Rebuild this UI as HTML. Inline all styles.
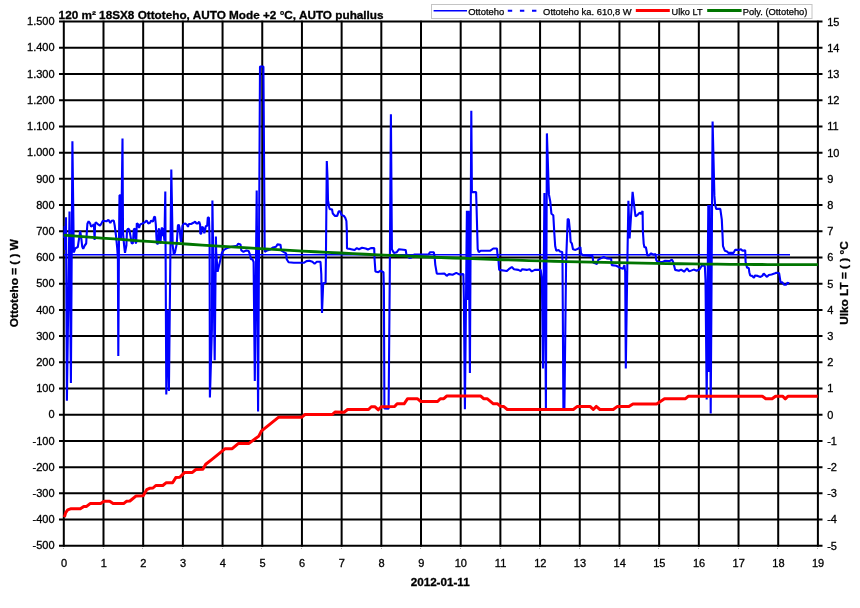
<!DOCTYPE html>
<html>
<head>
<meta charset="utf-8">
<title>Chart</title>
<style>
html, body { margin: 0; padding: 0; background: #fff; }
body { width: 860px; height: 608px; overflow: hidden; font-family: "Liberation Sans", sans-serif; }
svg { display: block; will-change: transform; }
</style>
</head>
<body>
<svg width="860" height="608" viewBox="0 0 860 608">
<rect width="860" height="608" fill="#fff"/>
<g stroke="#000" stroke-width="2" fill="none">
<line x1="59" x2="822.5" y1="21.60" y2="21.60"/>
<line x1="59" x2="822.5" y1="47.81" y2="47.81"/>
<line x1="59" x2="822.5" y1="74.02" y2="74.02"/>
<line x1="59" x2="822.5" y1="100.22" y2="100.22"/>
<line x1="59" x2="822.5" y1="126.43" y2="126.43"/>
<line x1="59" x2="822.5" y1="152.64" y2="152.64"/>
<line x1="59" x2="822.5" y1="178.84" y2="178.84"/>
<line x1="59" x2="822.5" y1="205.05" y2="205.05"/>
<line x1="59" x2="822.5" y1="231.26" y2="231.26"/>
<line x1="59" x2="822.5" y1="257.47" y2="257.47"/>
<line x1="59" x2="822.5" y1="283.68" y2="283.68"/>
<line x1="59" x2="822.5" y1="309.88" y2="309.88"/>
<line x1="59" x2="822.5" y1="336.09" y2="336.09"/>
<line x1="59" x2="822.5" y1="362.30" y2="362.30"/>
<line x1="59" x2="822.5" y1="388.50" y2="388.50"/>
<line x1="59" x2="822.5" y1="414.71" y2="414.71"/>
<line x1="59" x2="822.5" y1="440.92" y2="440.92"/>
<line x1="59" x2="822.5" y1="467.13" y2="467.13"/>
<line x1="59" x2="822.5" y1="493.34" y2="493.34"/>
<line x1="59" x2="822.5" y1="519.54" y2="519.54"/>
<line x1="59" x2="822.5" y1="545.75" y2="545.75"/>
<line x1="63.80" x2="63.80" y1="20.70" y2="546.65"/>
<line x1="103.49" x2="103.49" y1="20.70" y2="546.65"/>
<line x1="143.18" x2="143.18" y1="20.70" y2="546.65"/>
<line x1="182.87" x2="182.87" y1="20.70" y2="546.65"/>
<line x1="222.56" x2="222.56" y1="20.70" y2="546.65"/>
<line x1="262.25" x2="262.25" y1="20.70" y2="546.65"/>
<line x1="301.94" x2="301.94" y1="20.70" y2="546.65"/>
<line x1="341.63" x2="341.63" y1="20.70" y2="546.65"/>
<line x1="381.32" x2="381.32" y1="20.70" y2="546.65"/>
<line x1="421.01" x2="421.01" y1="20.70" y2="546.65"/>
<line x1="460.69" x2="460.69" y1="20.70" y2="546.65"/>
<line x1="500.38" x2="500.38" y1="20.70" y2="546.65"/>
<line x1="540.07" x2="540.07" y1="20.70" y2="546.65"/>
<line x1="579.76" x2="579.76" y1="20.70" y2="546.65"/>
<line x1="619.45" x2="619.45" y1="20.70" y2="546.65"/>
<line x1="659.14" x2="659.14" y1="20.70" y2="546.65"/>
<line x1="698.83" x2="698.83" y1="20.70" y2="546.65"/>
<line x1="738.52" x2="738.52" y1="20.70" y2="546.65"/>
<line x1="778.21" x2="778.21" y1="20.70" y2="546.65"/>
<line x1="817.90" x2="817.90" y1="20.70" y2="546.65"/>
</g>
<g fill="#aaa">
<rect x="63" y="548" width="1" height="1"/>
<rect x="103" y="548" width="1" height="1"/>
<rect x="142" y="548" width="1" height="1"/>
<rect x="182" y="548" width="1" height="1"/>
<rect x="222" y="548" width="1" height="1"/>
<rect x="261" y="548" width="1" height="1"/>
<rect x="301" y="548" width="1" height="1"/>
<rect x="341" y="548" width="1" height="1"/>
<rect x="381" y="548" width="1" height="1"/>
<rect x="420" y="548" width="1" height="1"/>
<rect x="460" y="548" width="1" height="1"/>
<rect x="500" y="548" width="1" height="1"/>
<rect x="539" y="548" width="1" height="1"/>
<rect x="579" y="548" width="1" height="1"/>
<rect x="619" y="548" width="1" height="1"/>
<rect x="658" y="548" width="1" height="1"/>
<rect x="698" y="548" width="1" height="1"/>
<rect x="738" y="548" width="1" height="1"/>
<rect x="777" y="548" width="1" height="1"/>
<rect x="817" y="548" width="1" height="1"/>
</g>
<line x1="64" x2="790" y1="254.7" y2="254.7" stroke="#00f" stroke-width="1.5"/>
<polyline fill="none" stroke="#0000ff" stroke-width="2.1" stroke-linejoin="bevel" points="64.2,238 64.8,226 65.2,250 66.0,217.3 66.9,400.8 69.5,211.4 70.9,383 72.4,141.2 73.8,252.4 75.3,248.4 77.8,247 79.2,237.6 80.2,230.9 81.2,237.6 82.2,246.5 83.2,248.9 84.7,245.5 86.2,243.5 86.7,233.6 87.4,223.8 88.6,221.3 90.1,223.3 91.1,226.7 92.6,225.7 93.9,224.2 94.6,240 95.1,224.2 95.7,222.3 97.5,223.8 100,225.7 101.5,223.3 102.9,220.8 106.4,221.3 108.4,219.8 110.3,223.0 111.6,220.8 113.8,220.6 114.7,225.5 115.9,235.0 117.2,248 117.9,258 118.3,356 118.9,250 119.5,195.3 120.5,195.3 121.0,240 121.7,200 122.5,138.5 123,232.6 124.1,245.3 125,252.8 126.4,245.3 127,230.3 128.2,228.6 129.3,229.7 130.5,236.1 131.6,243 132.8,243.6 133.9,229.2 135.1,228.6 135.6,243 136.2,243 136.8,223.4 137.9,224 139.1,228 140.2,224.5 142.6,223.4 144.9,222.2 146.6,220.5 148.3,223.4 150,222.8 151.2,220.5 152.9,221.7 154.1,217.1 155,216.5 155.8,224.5 156.4,236.1 156.9,243.6 158.1,243.6 158.7,229.2 159.2,228.6 159.8,236.1 160.4,243.6 161,236.1 161.9,227.4 162.7,236.1 163.3,228 164.4,240.7 165.3,191.5 166.3,394.6 167.6,310 168.9,391 171.3,169.6 172.7,245.3 173.8,254.5 175,252.2 176.7,244.1 177.9,225.7 178.7,224.5 179.6,228 180.5,238.4 181.1,241.8 181.7,236.1 182.5,225.7 183.6,224 185.3,223.4 187.1,225.1 188,226.9 188.8,224 191.1,224 193.4,222.8 195.1,221.7 196.3,223.4 198,223.4 199.2,221.7 200.1,224.5 200.3,233.8 201.2,233.8 201.7,226.9 203.2,227.4 204.3,233.2 205.1,230.3 205.8,226.3 207.2,225.7 207.8,217.6 208.9,217.6 209.3,228 209.6,243 209.9,397.4 211.9,330 212.4,200.6 214.7,360.2 215.9,236.6 216.2,252 217.6,271.8 219.8,262.2 222,252.6 224.2,249.6 227.2,248.1 231.6,246.7 236.8,245.9 238.3,243.7 240.5,244.4 241.3,250.4 243.5,251.8 246.4,250.4 248.7,251.1 250.1,254.8 250.9,259.2 252.4,259.2 253.6,262 254.8,381.1 256.7,190.5 258.1,411.4 260,66.5 263.4,66.5 264.7,251.8 267.2,250.4 270.1,249.6 273.1,247.4 276,246.7 277.5,244.4 280.5,244.7 281.2,250.4 283.5,251.8 286.1,253.3 286.7,259.2 288.6,262.2 293.8,262.7 304.2,262.6 306.5,261.1 309.4,260.8 312.4,261.8 314.6,263.7 316.8,261.8 320.5,261.8 321.3,274.4 322,312.9 323.2,283.3 325.6,282.8 326.0,250 326.8,161.1 327.6,179.6 328,200.3 329.1,207 329.8,209.2 332,209.2 332.8,213.6 335,215.9 337.2,215.9 338.7,211.4 340.2,211.4 341.6,215.1 343.9,215.9 345.3,217.8 346.4,221 346.8,229.9 347,248.5 350.1,248.9 354.6,250 356.8,248.1 359,249.2 362,247.8 365.7,248.5 367.9,249.5 370.9,248.1 374.2,248.1 374.6,259.6 375.4,271.4 378.3,272.2 380.5,270.7 383.5,272.2 383.9,289.2 384.4,408.5 388.6,408.8 389.8,272 390.9,114.3 391.9,249.2 393.9,252.9 396.8,252.2 399,249.2 405.7,250 406.4,254.4 409.4,258.1 411.6,257.4 414,254.6 428.6,254.4 430.1,252.2 433.8,252.2 434.6,256.6 435.3,264.8 436.8,273.7 440.5,273.7 444.4,273.6 446.7,275.8 448.9,274.1 452.6,274.7 456.3,272.9 459.2,274.4 463.4,274.1 463.9,300 464.9,409.2 466.9,210.7 467.8,300 468.6,210.7 469.9,372.9 471.3,110.7 471.9,192.1 476.1,192.1 476.5,205 477.7,249.2 478.8,252.2 480.7,250.7 490.3,250.7 493.3,248.5 497,248.5 497.4,253.6 498.5,261 499.2,269.9 505.1,270.7 506.6,271.1 508.8,269.2 511.8,267 514,269.2 518.4,269.9 520.7,271.1 522.2,269.2 526.7,269.9 529.6,269.2 531.8,271.4 534.8,269.9 540.7,269.9 541.9,278.8 543,368.5 544.4,192.9 545.9,408.4 546.9,133.4 548.9,194.4 550.3,201.8 551.4,213.7 553.3,215.2 554.3,232.9 555.2,246.2 556.3,250.7 558.5,249.9 560,251.4 562.2,251.9 562.5,262 563.4,408.4 564.4,408.4 566.1,262 567.7,218.9 568.8,219.6 570,231.4 570.6,241.8 571.8,243.3 573,249.2 575.5,249.9 578.5,248.5 580.4,247 581,253.6 582.9,255.1 592.5,255.9 593.3,262.5 597,264 598.4,259.6 600.7,258.4 603.7,257 606.7,258.4 611.1,258.7 611.8,265.1 616.3,265.8 620.7,268.1 622.9,268.8 624.4,265.1 625.2,272 625.8,368.4 627.4,260 628.4,200.7 629.6,238.5 632.6,191.8 634.3,206.6 635.5,216.3 637.7,214.8 639.7,212.6 641.1,214 642.6,211.1 642.9,231.8 643.7,243.6 644.4,247.3 645.9,247.3 647.4,255.5 648.8,255.5 651.1,253.3 653.3,254.7 655.5,254 656.2,259.9 657.7,262.1 662.2,262.1 665.1,260.7 669.6,261.1 671.8,259.6 673,261.5 673.7,264 675.2,269.9 678.9,270.7 681.1,269.6 684.1,271.7 687,268.4 689.2,271.4 693.7,269.6 696.6,270.7 699.6,269.2 701.8,265.8 704.8,265.8 705.5,280 706.7,399.6 708.3,205 708.7,372 709.8,205 710.7,413.6 712.6,121.5 714.4,195.9 715.1,204.8 716.2,208.9 720.3,208.9 721.8,219.6 722.5,234.4 723,246.2 724.8,250.7 727,251.4 728.5,252.9 733.6,252.9 735.1,249.9 738.8,249.9 741,249.2 742.5,250.7 745.2,250.4 745.6,262 747,267.6 748.8,268 749.3,272.2 750.2,275.5 752.1,275.9 754,277.8 754.9,275.5 757.7,275.9 760.5,276.9 762.3,275.9 763.7,273.6 765.1,275 767,276.9 768.8,275 771.6,274.5 774.4,273.6 776.3,272.7 779.1,273.1 780,278.7 780.5,282.4 782.3,282.4 784.2,284.8 786,284.8 787.4,282.9 789.3,283.2"/>
<polyline fill="none" stroke="#ff0000" stroke-width="3" stroke-linejoin="round" stroke-linecap="butt" points="64.4,517.2 65.7,512.7 67.7,509.9 70.5,508.8 80.3,508.8 83.8,506.4 86.6,506.4 90.1,503.6 100.6,503.6 104.1,501.3 109.7,501.3 113.1,503.6 123.6,503.6 126.4,501.3 129.9,501 136.2,495.9 143.2,495.7 146.7,489.7 149.5,488.3 153,488 155.8,485.5 162.8,485.5 166.3,482.7 172.6,482.7 175.8,477.6 179.8,477.2 184.7,472.4 192.4,472.4 195.9,469.5 202.9,469.2 205.7,464.3 212,459.4 225.2,448.7 232.2,448.7 238.5,443.4 249,443.4 258.8,436.1 261.6,430.8 278.4,417.3 301.5,417.3 305,414.5 332.2,414.5 335,412 344.1,412.2 347.6,409.5 368.5,409.5 371.3,406.7 374.8,406.7 378.3,409.8 381.3,406.7 394.6,406.5 397.1,403.8 404.1,403.8 407.6,398.7 417.3,398.7 420.8,401.5 437.6,401.5 440.3,398.7 443.8,398.7 446.6,396.1 480.8,396.1 483.6,398.7 487.1,398.7 493.4,403.8 497.6,403.8 500.3,406.2 503.8,406.6 507.3,409.5 573.3,409.5 577,406.6 590.3,406.6 593.3,409.5 596.2,406.4 599.9,409.5 613.2,409.5 617.1,406.6 628.9,406.6 632.9,403.9 656.6,403.9 664.5,398.7 685.5,398.7 688.5,396.2 762.3,396.2 765.8,398.8 772.1,398.8 775.6,396.2 782.6,396.2 785.3,398.8 788.1,396.2 817.7,396.2"/>
<polyline fill="none" stroke="#007500" stroke-width="2.8" stroke-linejoin="round" points="63.8,235.10 76.4,236.09 88.9,237.07 101.5,238.03 114.1,238.97 126.6,239.90 139.2,240.80 151.8,241.70 164.3,242.57 176.9,243.43 189.5,244.27 202.1,245.09 214.6,245.90 227.2,246.69 239.8,247.46 252.3,248.21 264.9,248.95 277.5,249.67 290.0,250.38 302.6,251.06 315.2,251.73 327.7,252.39 340.3,253.02 352.9,253.64 365.4,254.24 378.0,254.83 390.6,255.40 403.1,255.95 415.7,256.48 428.3,257.00 440.9,257.50 453.4,257.98 466.0,258.45 478.6,258.90 491.1,259.33 503.7,259.75 516.3,260.14 528.8,260.53 541.4,260.89 554.0,261.24 566.5,261.57 579.1,261.88 591.7,262.18 604.2,262.46 616.8,262.72 629.4,262.96 641.9,263.19 654.5,263.40 667.1,263.60 679.6,263.77 692.2,263.93 704.8,264.08 717.4,264.20 729.9,264.31 742.5,264.40 755.1,264.48 767.6,264.54 780.2,264.58 792.8,264.60 805.3,264.61 817.9,264.60"/>
<rect x="431.5" y="4.5" width="380.5" height="14" fill="#fff" stroke="#c4c4c4" stroke-width="1"/>
<line x1="433.6" x2="467" y1="10.8" y2="10.8" stroke="#00f" stroke-width="1.6"/>
<line x1="507.8" x2="537" y1="10.8" y2="10.8" stroke="#00f" stroke-width="2" stroke-dasharray="4.4 7.7"/>
<line x1="635.8" x2="669.8" y1="10.4" y2="10.4" stroke="#f00" stroke-width="3"/>
<line x1="707.2" x2="741.6" y1="10.4" y2="10.4" stroke="#007500" stroke-width="3"/>
<g font-family="'Liberation Sans', sans-serif" font-size="9.3px" fill="#000" stroke="#000" stroke-width="0.25">
<text x="468.2" y="14.6" textLength="36.1" lengthAdjust="spacingAndGlyphs">Ottoteho</text>
<text x="543.1" y="14.6" textLength="88.5" lengthAdjust="spacingAndGlyphs">Ottoteho ka. 610,8 W</text>
<text x="671.6" y="14.6" textLength="31" lengthAdjust="spacingAndGlyphs">Ulko LT</text>
<text x="742.8" y="14.6" textLength="64.6" lengthAdjust="spacingAndGlyphs">Poly. (Ottoteho)</text>
</g>
<text x="58.6" y="18.6" font-family="'Liberation Sans', sans-serif" font-size="11.3px" font-weight="bold" stroke="#000" stroke-width="0.3" textLength="325" lengthAdjust="spacingAndGlyphs">120 m² 18SX8 Ottoteho, AUTO Mode +2 °C, AUTO puhallus</text>
<g font-family="'Liberation Sans', sans-serif" font-size="11px" fill="#000" stroke="#000" stroke-width="0.3">
<text x="54.6" y="25.25" text-anchor="end">1.500</text>
<text x="827.2" y="25.50">15</text>
<text x="54.6" y="51.46" text-anchor="end">1.400</text>
<text x="827.2" y="51.71">14</text>
<text x="54.6" y="77.67" text-anchor="end">1.300</text>
<text x="827.2" y="77.92">13</text>
<text x="54.6" y="103.87" text-anchor="end">1.200</text>
<text x="827.2" y="104.12">12</text>
<text x="54.6" y="130.08" text-anchor="end">1.100</text>
<text x="827.2" y="130.33">11</text>
<text x="54.6" y="156.29" text-anchor="end">1.000</text>
<text x="827.2" y="156.54">10</text>
<text x="54.6" y="182.50" text-anchor="end">900</text>
<text x="827.2" y="182.75">9</text>
<text x="54.6" y="208.70" text-anchor="end">800</text>
<text x="827.2" y="208.95">8</text>
<text x="54.6" y="234.91" text-anchor="end">700</text>
<text x="827.2" y="235.16">7</text>
<text x="54.6" y="261.12" text-anchor="end">600</text>
<text x="827.2" y="261.37">6</text>
<text x="54.6" y="287.32" text-anchor="end">500</text>
<text x="827.2" y="287.57">5</text>
<text x="54.6" y="313.53" text-anchor="end">400</text>
<text x="827.2" y="313.78">4</text>
<text x="54.6" y="339.74" text-anchor="end">300</text>
<text x="827.2" y="339.99">3</text>
<text x="54.6" y="365.95" text-anchor="end">200</text>
<text x="827.2" y="366.20">2</text>
<text x="54.6" y="392.15" text-anchor="end">100</text>
<text x="827.2" y="392.40">1</text>
<text x="54.6" y="418.36" text-anchor="end">0</text>
<text x="827.2" y="418.61">0</text>
<text x="54.6" y="444.57" text-anchor="end">-100</text>
<text x="827.2" y="444.82">-1</text>
<text x="54.6" y="470.78" text-anchor="end">-200</text>
<text x="827.2" y="471.03">-2</text>
<text x="54.6" y="496.99" text-anchor="end">-300</text>
<text x="827.2" y="497.24">-3</text>
<text x="54.6" y="523.19" text-anchor="end">-400</text>
<text x="827.2" y="523.44">-4</text>
<text x="54.6" y="549.40" text-anchor="end">-500</text>
<text x="827.2" y="549.65">-5</text>
<text x="64.00" y="566.5" text-anchor="middle">0</text>
<text x="103.69" y="566.5" text-anchor="middle">1</text>
<text x="143.38" y="566.5" text-anchor="middle">2</text>
<text x="183.07" y="566.5" text-anchor="middle">3</text>
<text x="222.76" y="566.5" text-anchor="middle">4</text>
<text x="262.45" y="566.5" text-anchor="middle">5</text>
<text x="302.14" y="566.5" text-anchor="middle">6</text>
<text x="341.83" y="566.5" text-anchor="middle">7</text>
<text x="381.52" y="566.5" text-anchor="middle">8</text>
<text x="421.21" y="566.5" text-anchor="middle">9</text>
<text x="460.89" y="566.5" text-anchor="middle">10</text>
<text x="500.58" y="566.5" text-anchor="middle">11</text>
<text x="540.27" y="566.5" text-anchor="middle">12</text>
<text x="579.96" y="566.5" text-anchor="middle">13</text>
<text x="619.65" y="566.5" text-anchor="middle">14</text>
<text x="659.34" y="566.5" text-anchor="middle">15</text>
<text x="699.03" y="566.5" text-anchor="middle">16</text>
<text x="738.72" y="566.5" text-anchor="middle">17</text>
<text x="778.41" y="566.5" text-anchor="middle">18</text>
<text x="818.10" y="566.5" text-anchor="middle">19</text>
</g>
<g font-family="'Liberation Sans', sans-serif" font-size="11.4px" font-weight="bold" fill="#000" stroke="#000" stroke-width="0.3">
<text x="440.2" y="586.3" text-anchor="middle" textLength="59" lengthAdjust="spacingAndGlyphs">2012-01-11</text>
<text transform="translate(18.4,283.2) rotate(-90)" text-anchor="middle" textLength="88" lengthAdjust="spacingAndGlyphs">Ottoteho = ( ) W</text>
<text transform="translate(847.8,283) rotate(-90)" text-anchor="middle" textLength="83.6" lengthAdjust="spacingAndGlyphs">Ulko LT = ( ) °C</text>
</g>
</svg>
</body>
</html>
